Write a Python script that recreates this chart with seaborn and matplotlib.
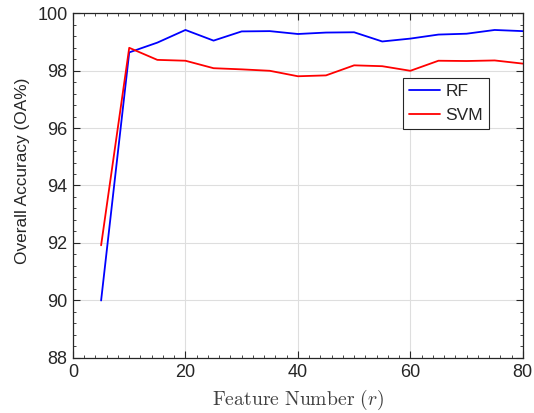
import numpy as np
import pandas as pd
import matplotlib
matplotlib.use("Agg")
import matplotlib.pyplot as plt
import seaborn as sns
from matplotlib.ticker import MultipleLocator

features = [5, 10, 15, 20, 25, 30, 35, 40, 45, 50, 55, 60, 65, 70, 75, 80]
rf = [90.0, 98.63, 98.97, 99.41, 99.04, 99.36, 99.37, 99.27, 99.32, 99.33, 99.01, 99.11, 99.25, 99.28, 99.41, 99.37]
svm = [91.92, 98.79, 98.37, 98.34, 98.08, 98.04, 97.99, 97.80, 97.83, 98.18, 98.15, 97.99, 98.34, 98.33, 98.35, 98.24]
methods = ["RF", "SVM"]
colors = ["#0000ff", "#ff0000"]

df = pd.DataFrame({
    "Feature": features * 2,
    "OA": rf + svm,
    "Method": ["RF"] * len(features) + ["SVM"] * len(features),
})

sns.set_theme(style="ticks")
plt.rcParams["font.family"] = ["Liberation Sans", "DejaVu Sans"]
plt.rcParams["mathtext.fontset"] = "cm"

fig = plt.figure(figsize=(5.34, 4.13), dpi=100)
ax = fig.add_axes([0.1367, 0.1332, 0.8423, 0.8353])

sns.lineplot(data=df, x="Feature", y="OA", hue="Method", hue_order=methods,
             palette=colors, linewidth=1.3, ax=ax)

ax.set_xlim(0, 80)
ax.set_ylim(88, 100)
ax.xaxis.set_major_locator(MultipleLocator(20))
ax.xaxis.set_minor_locator(MultipleLocator(2))
ax.yaxis.set_major_locator(MultipleLocator(2))
ax.yaxis.set_minor_locator(MultipleLocator(0.4))
ax.grid(True, which="major", color="#dedede", linewidth=0.8)
ax.set_axisbelow(True)
ax.tick_params(which="both", direction="in", top=True, right=True, color="#262626")
ax.tick_params(which="major", length=5, width=0.8, labelsize=13, labelcolor="#262626", pad=4)
ax.tick_params(which="minor", length=2.5, width=0.6)
for s in ax.spines.values():
    s.set_color("#262626")
    s.set_linewidth(0.9)

ax.set_xlabel(r"$\mathrm{Feature\ Number}\ (r)$", fontsize=14.2, color="#404040", labelpad=5)
ax.set_ylabel("Overall Accuracy (OA%)", fontsize=12.4, color="#262626", labelpad=7)
ax.yaxis.set_label_coords(-0.095, 0.542)

leg = ax.legend(loc="upper left", bbox_to_anchor=(0.733, 0.812), fontsize=12.5,
                frameon=True, fancybox=False, edgecolor="#262626", framealpha=1,
                handlelength=1.8, borderpad=0.35, labelspacing=0.5, handletextpad=0.3,
                borderaxespad=0)
leg.get_frame().set_linewidth(0.8)

fig.savefig("out.png", dpi=100)
